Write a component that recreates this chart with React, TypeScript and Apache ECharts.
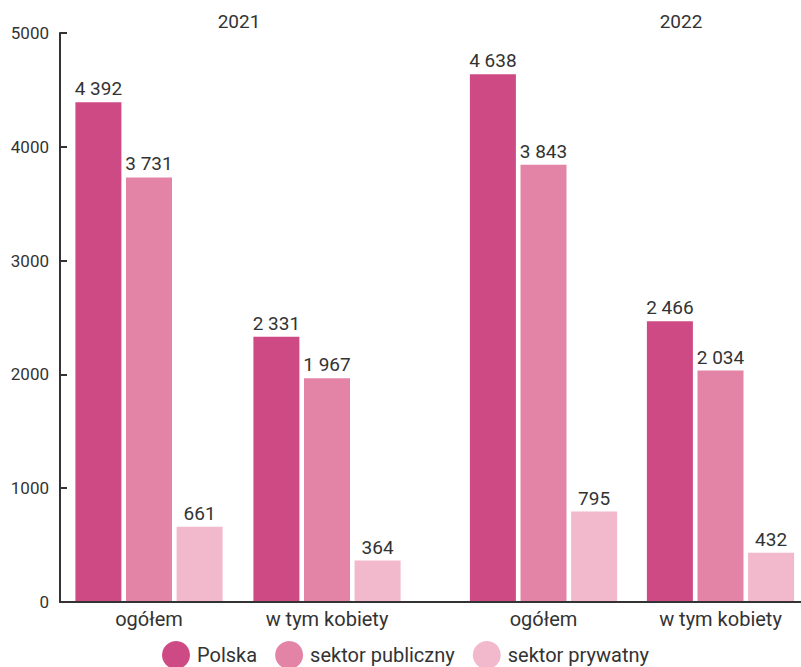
import React, { useEffect, useRef } from "react";
import * as echarts from "echarts";

const categories = ["ogółem", "w tym kobiety"];
const years = ["2021", "2022"];
const seriesNames = ["Polska", "sektor publiczny", "sektor prywatny"];
const colors = ["#CE4A84", "#E383A6", "#F2B8CB"];
const polska2021 = [4392, 2331];
const publiczny2021 = [3731, 1967];
const prywatny2021 = [661, 364];
const polska2022 = [4638, 2466];
const publiczny2022 = [3843, 2034];
const prywatny2022 = [795, 432];
const yTicks = { min: 0, max: 5000, interval: 1000 };

const FONT = "Roboto";
const TEXT = "#333333";

function fmt(v: number): string {
  return String(v).replace(/\B(?=(\d{3})+(?!\d))/g, " ");
}

export default function App() {
  const ref = useRef<HTMLDivElement>(null);
  useEffect(() => {
    if (!ref.current) return;
    const chart = echarts.init(ref.current, undefined, { renderer: "svg" });
    const groups = [
      [polska2021, publiczny2021, prywatny2021],
      [polska2022, publiczny2022, prywatny2022],
    ];
    const series: any[] = [];
    groups.forEach((g, gi) => {
      g.forEach((data, si) => {
        series.push({
          type: "bar",
          name: seriesNames[si],
          xAxisIndex: gi,
          yAxisIndex: gi,
          data,
          barWidth: 46,
          barGap: "10%",
          itemStyle: { color: colors[si] },
          label: {
            show: true,
            position: "top",
            distance: 4,
            formatter: (p: any) => fmt(p.value),
            fontFamily: FONT,
            fontSize: 19,
            color: TEXT,
          },
        });
      });
    });
    const xAxisCommon = {
      type: "category",
      data: categories,
      axisLine: { show: true, lineStyle: { color: TEXT, width: 2 } },
      axisTick: { show: false },
      axisLabel: { fontFamily: FONT, fontSize: 20, color: TEXT, margin: 7 },
    };
    chart.setOption({
      animation: false,
      textStyle: { fontFamily: FONT },
      grid: [
        { left: 60, top: 33, bottom: 65, width: 356 },
        { left: 455, top: 33, bottom: 65, width: 354 },
      ],
      xAxis: [
        { ...xAxisCommon, gridIndex: 0 },
        { ...xAxisCommon, gridIndex: 1 },
      ],
      yAxis: [
        {
          type: "value",
          gridIndex: 0,
          min: yTicks.min,
          max: yTicks.max,
          interval: yTicks.interval,
          axisLine: { show: true, lineStyle: { color: TEXT, width: 2 } },
          axisTick: { show: true, inside: true, length: 7, lineStyle: { color: TEXT, width: 2 } },
          splitLine: { show: false },
          axisLabel: {
            fontFamily: FONT,
            fontSize: 17,
            color: TEXT,
            margin: 11,
            formatter: (v: number) => String(v),
          },
        },
        {
          type: "value",
          gridIndex: 1,
          min: yTicks.min,
          max: yTicks.max,
          interval: yTicks.interval,
          show: false,
          splitLine: { show: false },
        },
      ],
      legend: {
        data: seriesNames,
        left: 162,
        top: 641,
        padding: 0,
        icon: "circle",
        itemWidth: 28,
        itemHeight: 28,
        itemGap: 18,
        textStyle: { fontFamily: FONT, fontSize: 20, color: TEXT, padding: [0, 0, 0, 2] },
      },
      graphic: [
        {
          type: "line",
          shape: { x1: 60, y1: 602, x2: 820, y2: 602 },
          style: { stroke: TEXT, lineWidth: 2 },
          z: 10,
        },
        {
          type: "text",
          x: 239,
          y: 21,
          style: { text: years[0], fontFamily: FONT, fontSize: 19, fill: TEXT, textAlign: "center", textVerticalAlign: "middle" },
        },
        {
          type: "text",
          x: 681,
          y: 21,
          style: { text: years[1], fontFamily: FONT, fontSize: 19, fill: TEXT, textAlign: "center", textVerticalAlign: "middle" },
        },
      ],
      series,
    });
    return () => chart.dispose();
  }, []);
  return (
    <div style={{ position: "fixed", left: 0, top: 0, width: 801, height: 667, overflow: "hidden", background: "#fff" }}>
      <div ref={ref} style={{ width: 820, height: 667 }} />
    </div>
  );
}
